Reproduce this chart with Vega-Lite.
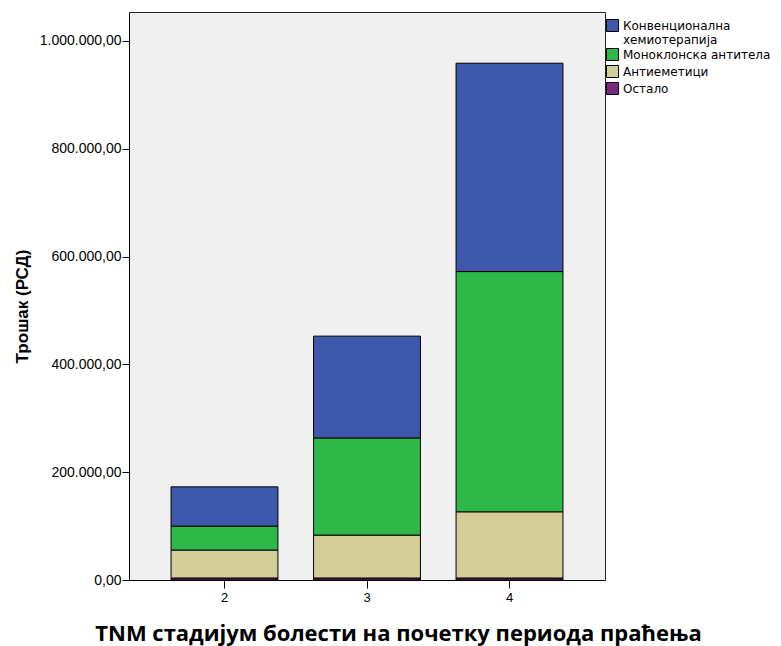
{
  "$schema": "https://vega.github.io/schema/vega-lite/v6.json",
  "width": 476,
  "height": 568,
  "autosize": {"type": "none"},
  "padding": {"left": 129, "top": 12, "right": 176, "bottom": 66},
  "background": "white",
  "config": {
    "locale": {"number": {"decimal": ",", "thousands": ".", "grouping": [3], "currency": ["", ""]}},
    "view": {"fill": "#f0f0f0", "stroke": "#222222", "strokeWidth": 1},
    "font": "Liberation Sans"
  },
  "data": {
    "values": [
      {"stage": "2", "category": "Остало", "cost": 3700},
      {"stage": "2", "category": "Антиеметици", "cost": 51856},
      {"stage": "2", "category": "Моноклонска антитела", "cost": 44444},
      {"stage": "2", "category": "Конвенционална хемиотерапија", "cost": 72800},
      {"stage": "3", "category": "Остало", "cost": 3700},
      {"stage": "3", "category": "Антиеметици", "cost": 79600},
      {"stage": "3", "category": "Моноклонска антитела", "cost": 180200},
      {"stage": "3", "category": "Конвенционална хемиотерапија", "cost": 188900},
      {"stage": "4", "category": "Остало", "cost": 3700},
      {"stage": "4", "category": "Антиеметици", "cost": 122800},
      {"stage": "4", "category": "Моноклонска антитела", "cost": 445700},
      {"stage": "4", "category": "Конвенционална хемиотерапија", "cost": 386500}
    ]
  },
  "transform": [
    {"calculate": "indexof(['Остало', 'Антиеметици', 'Моноклонска антитела', 'Конвенционална хемиотерапија'], datum.category)", "as": "stackKey"}
  ],
  "mark": {"type": "bar", "stroke": "black", "strokeWidth": 1},
  "encoding": {
    "x": {
      "field": "stage",
      "type": "ordinal",
      "scale": {"paddingInner": 0.25, "paddingOuter": 0.295},
      "axis": {
        "title": "TNM стадијум болести на почетку периода праћења",
        "titleFont": "Open Sans",
        "titleFontSize": 22,
        "titleFontWeight": "bold",
        "titleColor": "black",
        "titleX": 269,
        "titleY": 53,
        "titleAlign": "center",
        "titleBaseline": "middle",
        "labelAngle": 0,
        "labelFontSize": 13,
        "labelColor": "black",
        "labelPadding": 3,
        "tickSize": 8,
        "tickColor": "black",
        "domainColor": "black"
      }
    },
    "y": {
      "field": "cost",
      "type": "quantitative",
      "stack": "zero",
      "scale": {"domain": [0, 1053700], "nice": false},
      "axis": {
        "title": "Трошак (РСД)",
        "titleFontSize": 17,
        "titleFontWeight": "bold",
        "titleColor": "black",
        "titleX": -107,
        "titleY": 294,
        "titleAngle": -90,
        "titleAlign": "center",
        "titleBaseline": "middle",
        "values": [0, 200000, 400000, 600000, 800000, 1000000],
        "format": ",.2f",
        "labelFontSize": 14,
        "labelColor": "black",
        "labelPadding": 1,
        "tickSize": 7,
        "tickColor": "black",
        "domainColor": "black",
        "grid": false
      }
    },
    "order": {"field": "stackKey", "type": "quantitative", "sort": "ascending"},
    "color": {
      "field": "category",
      "type": "nominal",
      "sort": ["Конвенционална хемиотерапија", "Моноклонска антитела", "Антиеметици", "Остало"],
      "scale": {
        "domain": ["Конвенционална хемиотерапија", "Моноклонска антитела", "Антиеметици", "Остало"],
        "range": ["#3E58AC", "#2EB848", "#D3CE97", "#7C287D"]
      },
      "legend": {
        "title": null,
        "orient": "none",
        "legendX": 477,
        "legendY": 7,
        "padding": 0,
        "symbolType": "square",
        "symbolSize": 144,
        "symbolStrokeColor": "black",
        "symbolStrokeWidth": 1,
        "symbolOpacity": 1,
        "labelFont": "DejaVu Sans",
        "labelFontSize": 12,
        "labelColor": "black",
        "labelOffset": 4,
        "labelLineHeight": 11,
        "labelLimit": 300,
        "rowPadding": 0,
        "labelExpr": "datum.label == 'Конвенционална хемиотерапија' ? ['Конвенционална', 'хемиотерапија'] : datum.label"
      }
    }
  }
}
